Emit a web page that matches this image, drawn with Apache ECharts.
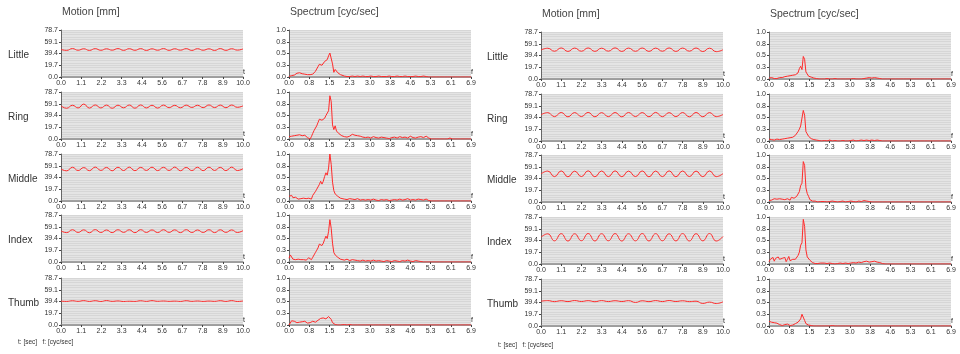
<!DOCTYPE html>
<html>
<head>
<meta charset="utf-8">
<script src="https://cdn.jsdelivr.net/npm/echarts@6/dist/echarts.min.js"></script>
<style>
  html, body { margin: 0; padding: 0; background: #fff; }
  #chart { width: 960px; height: 354px; }
</style>
</head>
<body>
<div id="chart"></div>
<script>
const fingers = ['Little', 'Ring', 'Middle', 'Index', 'Thumb'];

const motionXTicks = ['0.0', '1.1', '2.2', '3.3', '4.4', '5.6', '6.7', '7.8', '8.9', '10.0'];
const spectrumXTicks = ['0.0', '0.8', '1.5', '2.3', '3.0', '3.8', '4.6', '5.3', '6.1', '6.9'];
const motionYTicks = ['0.0', '19.7', '39.4', '59.1', '78.7'];
const spectrumYTicks = ['0.0', '0.3', '0.5', '0.8', '1.0'];

// sample times [sec] (peaks / troughs)
const leftTimes = [0, 0.31, 0.63, 0.94, 1.25, 1.56, 1.88, 2.19, 2.5, 2.81, 3.13, 3.44, 3.75, 4.06, 4.38, 4.69, 5,
  5.31, 5.63, 5.94, 6.25, 6.56, 6.88, 7.19, 7.5, 7.81, 8.13, 8.44, 8.75, 9.06, 9.38, 9.69, 10];
const rightTimes = [0, 0.37, 0.74, 1.11, 1.48, 1.85, 2.22, 2.59, 2.96, 3.33, 3.7, 4.07, 4.44, 4.81, 5.19, 5.56,
  5.93, 6.3, 6.67, 7.04, 7.41, 7.78, 8.15, 8.52, 8.89, 9.26, 9.63, 10];

// motion [mm]
const leftLittle = [46.0, 44.6, 47.6, 44.8, 47.3, 44.5, 47.5, 44.7, 47.2, 44.9, 47.6, 44.6, 47.4, 44.7, 47.5, 44.5, 47.2,
  44.8, 47.6, 44.6, 47.3, 44.9, 47.5, 44.5, 47.4, 44.8, 47.2, 44.5, 47.6, 44.6, 47.3, 45.0, 47.0];
const leftRing = [55.5, 51.5, 56.5, 52.0, 58.5, 51.8, 57.0, 52.0, 56.8, 51.5, 56.6, 52.2, 56.9, 51.6, 57.0, 52.0, 56.5,
  51.8, 56.8, 52.4, 56.4, 52.2, 56.7, 52.8, 56.5, 52.5, 57.0, 52.6, 56.8, 52.4, 56.9, 53.0, 55.5];
const leftMiddle = [53.5, 50.5, 56.5, 51.0, 56.0, 50.8, 56.8, 51.2, 56.2, 50.6, 56.5, 51.0, 56.7, 50.8, 56.3, 51.2, 56.6,
  50.9, 56.4, 51.1, 56.8, 50.7, 56.2, 51.0, 56.5, 50.8, 56.6, 51.2, 56.3, 50.9, 56.7, 51.0, 54.0];
const leftIndex = [52.0, 49.2, 54.0, 49.5, 53.8, 49.0, 54.2, 49.4, 53.6, 49.2, 54.0, 49.6, 53.9, 49.1, 54.1, 49.5, 53.7,
  49.3, 54.0, 49.6, 53.8, 49.2, 54.1, 49.4, 53.6, 49.5, 54.0, 49.2, 53.9, 49.6, 53.7, 49.4, 52.5];
const leftThumb = [40.0, 39.5, 40.6, 39.6, 40.8, 39.5, 40.7, 39.4, 40.9, 39.6, 40.3, 39.4, 39.8, 39.5, 40.6, 39.6, 40.8,
  39.7, 40.2, 39.6, 40.0, 39.5, 40.7, 39.6, 40.2, 39.5, 40.1, 39.6, 40.7, 39.5, 40.8, 39.4, 40.2];

const rightLittle = [48.5, 51.5, 46.5, 52.0, 46.2, 51.8, 46.5, 52.0, 46.3, 51.6, 46.6, 52.1, 46.2, 51.8, 46.4, 51.9,
  46.3, 51.7, 46.5, 52.0, 46.2, 51.8, 46.6, 51.9, 46.0, 51.6, 45.8, 49.0];
const rightRing = [44.0, 47.5, 40.8, 47.8, 40.5, 47.6, 40.9, 47.9, 40.6, 47.5, 40.8, 47.7, 40.5, 47.8, 40.9, 47.6,
  40.6, 47.9, 40.7, 47.5, 40.8, 47.7, 40.5, 47.8, 40.6, 47.6, 40.8, 44.5];
const rightMiddle = [47.0, 51.8, 42.5, 52.0, 42.2, 51.6, 42.6, 52.2, 42.3, 51.9, 42.5, 52.1, 42.4, 51.7, 42.6, 52.0,
  42.2, 51.8, 42.5, 52.1, 42.3, 51.9, 42.6, 51.7, 42.4, 52.0, 42.5, 47.5];
const rightIndex = [45.0, 50.5, 38.8, 50.8, 38.5, 50.6, 39.0, 51.0, 38.6, 50.7, 38.9, 50.9, 38.5, 50.6, 38.8, 51.0,
  38.6, 50.8, 38.9, 50.5, 38.7, 50.9, 38.6, 50.7, 38.8, 51.0, 38.5, 46.0];
const rightThumb = [41.5, 42.5, 40.8, 42.3, 40.9, 42.6, 41.0, 42.4, 40.7, 42.5, 40.9, 42.3, 41.0, 42.4, 39.5, 42.2,
  40.8, 42.5, 40.9, 42.6, 41.0, 42.2, 40.8, 41.5, 37.8, 40.0, 37.6, 40.5];

// spectrum frequencies [cyc/sec]
const freqs = [
  0, 0.05, 0.1, 0.15, 0.2, 0.25, 0.3, 0.35, 0.4, 0.45,
  0.5, 0.55, 0.6, 0.65, 0.7, 0.75, 0.8, 0.85, 0.9, 0.95,
  1.0, 1.05, 1.1, 1.15, 1.2, 1.25, 1.3, 1.35, 1.4, 1.45,
  1.5, 1.55, 1.6, 1.65, 1.7, 1.75, 1.8, 1.85, 1.9, 1.95,
  2.0, 2.1, 2.2, 2.3, 2.4, 2.5, 2.6, 2.7, 2.8, 2.9,
  3.0, 3.1, 3.2, 3.3, 3.4, 3.5, 3.6, 3.7, 3.8, 3.9,
  4.0, 4.1, 4.2, 4.3, 4.4, 4.5, 4.6, 4.7, 4.8, 4.9,
  5.0, 5.1, 5.2, 5.3, 5.4, 5.5, 5.6, 5.7, 5.8, 5.9,
  6.0, 6.1, 6.2, 6.3, 6.4, 6.5, 6.6, 6.7, 6.8, 6.9
];

const leftLittleSpec = [
  0.01, 0.02, 0.03, 0.02, 0.04, 0.06, 0.08, 0.11, 0.09, 0.1,
  0.07, 0.05, 0.06, 0.03, 0.05, 0.07, 0.05, 0.03, 0.06, 0.08,
  0.12, 0.17, 0.22, 0.27, 0.3, 0.25, 0.28, 0.33, 0.29, 0.37,
  0.45, 0.51, 0.47, 0.28, 0.1, 0.16, 0.12, 0.09, 0.07, 0.05,
  0.03, 0.02, 0.01, 0.01, 0.02, 0.01, 0.02, 0.01, 0.02, 0.01,
  0.01, 0.02, 0.01, 0.01, 0.02, 0.01, 0.01, 0.01, 0.02, 0.01,
  0.01, 0.02, 0.01, 0.01, 0.02, 0.01, 0.01, 0.01, 0.02, 0.01,
  0.01, 0.02, 0.01, 0, 0, 0, 0, 0, 0, 0,
  0, 0, 0, 0, 0, 0, 0, 0, 0, 0
];
const leftRingSpec = [
  0.05, 0.07, 0.06, 0.08, 0.07, 0.09, 0.08, 0.07, 0.09, 0.08,
  0.07, 0.06, 0.08, 0.05, 0.03, 0.01, 0.0, 0.05, 0.12, 0.18,
  0.22, 0.28, 0.35, 0.42, 0.46, 0.4, 0.37, 0.44, 0.5, 0.48,
  0.6, 0.92, 0.8, 0.3, 0.2, 0.28, 0.17, 0.13, 0.11, 0.09,
  0.07, 0.05, 0.04, 0.06, 0.1, 0.08, 0.07, 0.06, 0.04, 0.03,
  0.04, 0.02, 0.05, 0.03, 0.02, 0.04, 0.03, 0.02, 0.01, 0.03,
  0.04, 0.02, 0.05, 0.03, 0.04, 0.02, 0.06, 0.03, 0.02, 0.04,
  0.05, 0.03, 0.06, 0.02, 0, 0, 0, 0, 0, 0,
  0, 0.02, 0, 0, 0, 0, 0, 0, 0, 0
];
const leftMiddleSpec = [
  0.1, 0.08, 0.12, 0.07, 0.05, 0.08, 0.06, 0.04, 0.07, 0.05,
  0.03, 0.06, 0.04, 0.05, 0.08, 0.06, 0.1, 0.04, 0.12, 0.16,
  0.2, 0.25, 0.3, 0.35, 0.42, 0.36, 0.42, 0.52, 0.6, 0.55,
  0.7, 1.0, 0.78, 0.4, 0.22, 0.15, 0.12, 0.1, 0.08, 0.06,
  0.05, 0.04, 0.03, 0.05, 0.04, 0.03, 0.05, 0.02, 0.03, 0.02,
  0.03, 0.02, 0.04, 0.02, 0.01, 0.03, 0.02, 0.03, 0.01, 0.02,
  0.03, 0.02, 0.04, 0.02, 0.03, 0.05, 0.02, 0.03, 0.02, 0.04,
  0.03, 0.02, 0.04, 0.01, 0, 0, 0, 0, 0, 0,
  0, 0, 0, 0, 0, 0, 0, 0, 0, 0
];
const leftIndexSpec = [
  0.08, 0.15, 0.12, 0.06, 0.04, 0.05, 0.03, 0.06, 0.04, 0.05,
  0.08, 0.05, 0.06, 0.04, 0.07, 0.09, 0.06, 0.05, 0.1, 0.15,
  0.2, 0.25, 0.3, 0.38, 0.42, 0.35, 0.4, 0.48, 0.55, 0.5,
  0.65, 0.9, 0.72, 0.4, 0.2, 0.15, 0.12, 0.1, 0.08, 0.06,
  0.05, 0.04, 0.06, 0.03, 0.05, 0.04, 0.03, 0.02, 0.04, 0.02,
  0.03, 0.02, 0.04, 0.02, 0.03, 0.02, 0.01, 0.03, 0.02, 0.01,
  0.03, 0.02, 0.01, 0.03, 0.02, 0.04, 0.02, 0.01, 0.03, 0.02,
  0.01, 0, 0, 0, 0, 0, 0, 0, 0, 0,
  0, 0, 0, 0, 0, 0, 0, 0, 0, 0
];
const leftThumbSpec = [
  0.0, 0.04, 0.09, 0.06, 0.08, 0.07, 0.05, 0.08, 0.06, 0.09,
  0.07, 0.05, 0.08, 0.06, 0.04, 0.07, 0.05, 0.06, 0.08, 0.07,
  0.06, 0.09, 0.1, 0.12, 0.14, 0.12, 0.15, 0.17, 0.13, 0.16,
  0.18, 0.22, 0.12, 0.05, 0.03, 0.01, 0, 0, 0.01, 0,
  0, 0.01, 0, 0.01, 0, 0, 0, 0, 0, 0,
  0, 0, 0, 0, 0, 0, 0, 0, 0, 0,
  0, 0, 0, 0, 0, 0, 0, 0, 0, 0,
  0, 0, 0, 0, 0, 0, 0, 0, 0, 0,
  0, 0, 0, 0, 0, 0, 0, 0, 0, 0
];

const rightLittleSpec = [
  0.02, 0.04, 0.03, 0.02, 0.01, 0.02, 0.01, 0.02, 0.03, 0.02,
  0.03, 0.04, 0.05, 0.05, 0.06, 0.06, 0.07, 0.07, 0.08, 0.08,
  0.09, 0.1, 0.13, 0.22, 0.27, 0.2, 0.48, 0.42, 0.15, 0.12,
  0.06, 0.05, 0.04, 0.03, 0.02, 0.01, 0.01, 0, 0, 0,
  0, 0, 0.01, 0, 0, 0.01, 0, 0, 0, 0,
  0, 0, 0.01, 0, 0, 0, 0.01, 0.02, 0.03, 0.02,
  0.03, 0.02, 0.01, 0, 0, 0, 0, 0, 0, 0,
  0, 0, 0, 0, 0, 0, 0, 0, 0, 0,
  0, 0, 0, 0, 0, 0, 0, 0, 0, 0
];
const rightRingSpec = [
  0.04, 0.06, 0.03, 0.05, 0.02, 0.03, 0.04, 0.02, 0.03, 0.05,
  0.04, 0.06, 0.05, 0.07, 0.06, 0.08, 0.07, 0.09, 0.08, 0.1,
  0.12, 0.15, 0.2, 0.25, 0.32, 0.3, 0.65, 0.55, 0.2, 0.15,
  0.1, 0.08, 0.05, 0.04, 0.03, 0.02, 0.02, 0.01, 0.01, 0,
  0, 0.01, 0, 0.02, 0, 0.01, 0, 0, 0.01, 0,
  0, 0.01, 0.02, 0, 0.01, 0.02, 0.01, 0.02, 0.01, 0.02,
  0.01, 0.02, 0.01, 0, 0, 0, 0, 0, 0, 0,
  0, 0, 0, 0, 0, 0, 0, 0, 0, 0,
  0, 0, 0, 0, 0, 0, 0, 0, 0, 0
];
const rightMiddleSpec = [
  0.03, 0.06, 0.04, 0.05, 0.07, 0.04, 0.06, 0.05, 0.07, 0.05,
  0.06, 0.04, 0.05, 0.03, 0.07, 0.05, 0.04, 0.1, 0.06, 0.08,
  0.09, 0.12, 0.15, 0.22, 0.35, 0.4, 0.86, 0.78, 0.3, 0.18,
  0.12, 0.05, 0.03, 0.02, 0.01, 0.02, 0.01, 0, 0.01, 0.01,
  0.02, 0.01, 0, 0.01, 0.02, 0.01, 0, 0.01, 0.02, 0,
  0.01, 0.02, 0.01, 0, 0.02, 0.01, 0.03, 0.02, 0.01, 0,
  0, 0, 0, 0, 0, 0, 0, 0, 0, 0,
  0, 0, 0, 0, 0, 0, 0, 0, 0, 0,
  0, 0, 0, 0, 0, 0, 0, 0, 0, 0
];
const rightIndexSpec = [
  0.05, 0.1, 0.08, 0.14, 0.06, 0.12, 0.08, 0.15, 0.1, 0.06,
  0.12, 0.08, 0.14, 0.05, 0.1, 0.16, 0.07, 0.05, 0.1, 0.08,
  0.1, 0.12, 0.18, 0.25, 0.4, 0.45, 0.95, 0.8, 0.3, 0.15,
  0.12, 0.08, 0.05, 0.03, 0.02, 0.01, 0.02, 0.01, 0.01, 0.02,
  0.01, 0.02, 0.01, 0.02, 0.01, 0, 0.01, 0.02, 0.01, 0.02,
  0.01, 0.02, 0.03, 0.02, 0.04, 0.03, 0.05, 0.06, 0.04, 0.05,
  0.06, 0.04, 0.03, 0.01, 0, 0, 0, 0, 0, 0,
  0, 0, 0, 0, 0, 0, 0, 0, 0, 0,
  0, 0, 0, 0, 0, 0, 0, 0, 0, 0
];
const rightThumbSpec = [
  0.1, 0.12, 0.08, 0.09, 0.07, 0.08, 0.06, 0.05, 0.03, 0.02,
  0.01, 0.02, 0.03, 0.02, 0.04, 0.02, 0.01, 0.03, 0.02, 0.04,
  0.05, 0.06, 0.08, 0.1, 0.15, 0.25, 0.22, 0.12, 0.05, 0.03,
  0.02, 0.01, 0.01, 0, 0, 0, 0, 0, 0, 0,
  0, 0, 0, 0, 0.01, 0, 0, 0, 0, 0,
  0, 0, 0, 0, 0, 0, 0, 0, 0, 0,
  0, 0, 0, 0, 0, 0, 0, 0, 0, 0,
  0, 0, 0, 0, 0, 0, 0, 0, 0, 0,
  0, 0, 0, 0, 0, 0, 0, 0, 0, 0
];

const FONT = 'Liberation Sans';
const PLOT_W = 182, PLOT_H = 47;

const panels = [
  {
    motionLeft: 61, specLeft: 289, tops: [30, 92, 154, 215, 278], labelX: 8, titleTop: 7,
    footX: 18, footY: 343, times: leftTimes,
    motion: [leftLittle, leftRing, leftMiddle, leftIndex, leftThumb],
    spec: [leftLittleSpec, leftRingSpec, leftMiddleSpec, leftIndexSpec, leftThumbSpec]
  },
  {
    motionLeft: 541, specLeft: 769, tops: [32, 94, 155, 217, 279], labelX: 487, titleTop: 9,
    footX: 498, footY: 346, times: rightTimes,
    motion: [rightLittle, rightRing, rightMiddle, rightIndex, rightThumb],
    spec: [rightLittleSpec, rightRingSpec, rightMiddleSpec, rightIndexSpec, rightThumbSpec]
  }
];

const grids = [], xAxes = [], yAxes = [], series = [], graphics = [];

function addPlot(left, top, isMotion, data) {
  const gi = grids.length;
  const xMax = isMotion ? 10 : 6.9;
  const yMax = isMotion ? 78.7 : 1;
  const xStep = xMax / 9;
  const yStep = yMax / 4;
  const xTicks = isMotion ? motionXTicks : spectrumXTicks;
  const yTicks = isMotion ? motionYTicks : spectrumYTicks;

  grids.push({
    left: left, top: top, width: PLOT_W, height: PLOT_H,
    show: true, backgroundColor: '#e4e4e4', borderWidth: 0
  });
  xAxes.push({
    gridIndex: gi, type: 'value', min: 0, max: xMax, interval: xStep,
    name: isMotion ? 't' : 'f', nameLocation: 'end', nameGap: 0,
    nameTextStyle: { fontSize: 7, color: '#222', fontFamily: FONT, verticalAlign: 'bottom', align: 'left', padding: [0, 0, 1, 0] },
    axisLine: { show: true, onZero: false, lineStyle: { color: '#8a8a8a', width: 1.5 } },
    axisTick: { show: true, length: 2, lineStyle: { color: '#444' } },
    axisLabel: {
      fontSize: 7, color: '#333', fontFamily: FONT, margin: 3,
      formatter: v => xTicks[Math.round(v / xStep)]
    },
    splitLine: { show: false }
  });
  yAxes.push({
    gridIndex: gi, type: 'value', min: 0, max: yMax, interval: yStep,
    axisLine: { show: true, lineStyle: { color: '#666', width: 1 } },
    axisTick: { show: true, length: 2, lineStyle: { color: '#444' } },
    axisLabel: {
      fontSize: 7, color: '#333', fontFamily: FONT, margin: 3,
      formatter: v => yTicks[Math.round(v / yStep)]
    },
    splitLine: { show: false }
  });
  // fine horizontal striping of the plot background
  yAxes.push({
    gridIndex: gi, type: 'value', min: 0, max: 20, interval: 1,
    axisLine: { show: false }, axisTick: { show: false }, axisLabel: { show: false },
    splitLine: { show: true, lineStyle: { color: '#d6d6d6', width: 1 } }
  });
  series.push({
    type: 'line', xAxisIndex: gi, yAxisIndex: yAxes.length - 2,
    data: data, showSymbol: false, smooth: isMotion ? 0.5 : false,
    lineStyle: { color: '#ff2a2a', width: 1 }, z: 3
  });
}

panels.forEach(p => {
  graphics.push({ type: 'text', left: p.motionLeft + 1, top: p.titleTop,
    style: { text: 'Motion [mm]', font: '10.5px ' + FONT, fill: '#444' } });
  graphics.push({ type: 'text', left: p.specLeft + 1, top: p.titleTop,
    style: { text: 'Spectrum [cyc/sec]', font: '10.5px ' + FONT, fill: '#444' } });
  graphics.push({ type: 'text', left: p.footX, top: p.footY - 4,
    style: { text: 't: [sec]   f: [cyc/sec]', font: '6.5px ' + FONT, fill: '#333' } });

  fingers.forEach((name, r) => {
    const top = p.tops[r];
    graphics.push({ type: 'text', left: p.labelX, top: top + 20,
      style: { text: name, font: '10px ' + FONT, fill: '#333' } });
    addPlot(p.motionLeft, top, true, p.times.map((t, i) => [t, p.motion[r][i]]));
    addPlot(p.specLeft, top, false, freqs.map((f, i) => [f, p.spec[r][i]]));
  });
});

const chart = echarts.init(document.getElementById('chart'));
chart.setOption({
  animation: false,
  backgroundColor: '#fff',
  grid: grids,
  xAxis: xAxes,
  yAxis: yAxes,
  series: series,
  graphic: graphics
});
</script>
</body>
</html>
